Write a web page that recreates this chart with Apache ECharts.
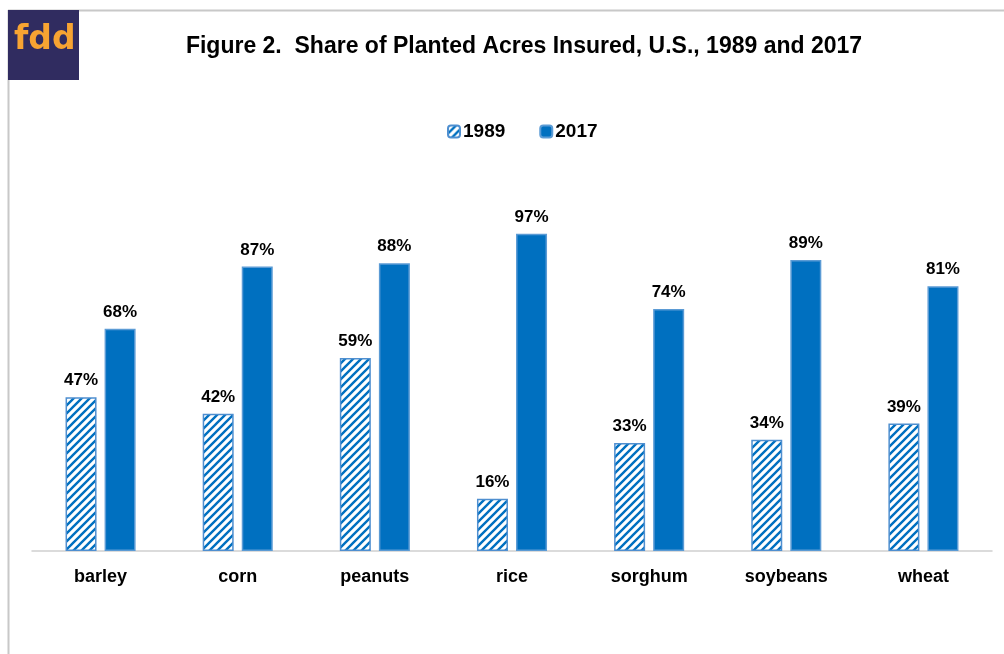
<!DOCTYPE html>
<html>
<head>
<meta charset="utf-8">
<script src="https://cdn.jsdelivr.net/npm/echarts@6/dist/echarts.min.js"></script>
<style>
  html, body { margin: 0; padding: 0; background: #fff; }
  #main { width: 1004px; height: 654px; }
</style>
</head>
<body>
<div id="main"></div>
<script>
// 数据
var categories = ['barley', 'corn', 'peanuts', 'rice', 'sorghum', 'soybeans', 'wheat'];
var values1989 = [47, 42, 59, 16, 33, 34, 39];
var values2017 = [68, 87, 88, 97, 74, 89, 81];

// 斜线填充
function hatch() {
    var c = document.createElement('canvas');
    c.width = 8; c.height = 8;
    var ctx = c.getContext('2d');
    ctx.fillStyle = '#fff';
    ctx.fillRect(0, 0, 8, 8);
    ctx.strokeStyle = '#0070c0';
    ctx.lineWidth = 2.4;
    ctx.beginPath();
    ctx.moveTo(-2, 10); ctx.lineTo(10, -2);
    ctx.moveTo(-6, 6); ctx.lineTo(6, -6);
    ctx.moveTo(2, 14); ctx.lineTo(14, 2);
    ctx.stroke();
    return c;
}
var hatchFill = { image: hatch(), repeat: 'repeat' };

var myChart = echarts.init(document.getElementById('main'));

var labelStyle = {
    show: true, position: 'top', distance: 8, formatter: '{c}%',
    fontFamily: 'Liberation Sans', fontSize: 17, fontWeight: 'bold', color: '#000'
};

var option = {
    backgroundColor: '#fff',
    animation: false,
    title: {
        text: 'Figure 2.  Share of Planted Acres Insured, U.S., 1989 and 2017',
        left: 519,
        textAlign: 'center',
        top: 30,
        textStyle: { fontFamily: 'Liberation Sans', fontSize: 23, fontWeight: 'bold', color: '#000' }
    },
    legend: {
        data: ['1989', '2017'],
        top: 117,
        left: 442,
        itemWidth: 12,
        itemHeight: 12,
        itemGap: 34,
        textStyle: { fontFamily: 'Liberation Sans', fontSize: 19, fontWeight: 'bold', color: '#000', padding: [0, 0, 0, -2] }
    },
    grid: { left: 32, right: 12, top: 224, bottom: 103, containLabel: false },
    xAxis: {
        type: 'category',
        data: categories,
        axisTick: { show: false },
        axisLine: { lineStyle: { color: '#d0d0d0', width: 1.5 } },
        axisLabel: { fontFamily: 'Liberation Sans', fontSize: 18, fontWeight: 'bold', color: '#000', margin: 17 }
    },
    yAxis: {
        type: 'value',
        min: 0,
        max: 100,
        show: false,
        splitLine: { show: false }
    },
    series: [
        {
            name: '1989',
            type: 'bar',
            data: values1989,
            barWidth: 31,
            barGap: '26%',
            itemStyle: { color: hatchFill, borderColor: '#4f8fd0', borderWidth: 1.5 },
            label: labelStyle
        },
        {
            name: '2017',
            type: 'bar',
            data: values2017,
            barWidth: 31,
            itemStyle: { color: '#0070c0', borderColor: '#5b9bd5', borderWidth: 1.5 },
            label: labelStyle
        }
    ],
    graphic: [
        // 外框
        { type: 'line', shape: { x1: 8, y1: 10.5, x2: 1004, y2: 10.5 }, style: { stroke: '#c8c8c8', lineWidth: 2 } },
        { type: 'line', shape: { x1: 8.5, y1: 10, x2: 8.5, y2: 654 }, style: { stroke: '#c8c8c8', lineWidth: 2 } },
        // logo
        { type: 'rect', shape: { x: 8, y: 10, width: 71, height: 70 }, style: { fill: '#302c60' } },
        {
            type: 'text', left: 14, top: 24,
            style: { text: 'fdd', fill: '#f7a432', font: 'bold 33px "DejaVu Sans"' }
        }
    ]
};

myChart.setOption(option);
</script>
</body>
</html>
